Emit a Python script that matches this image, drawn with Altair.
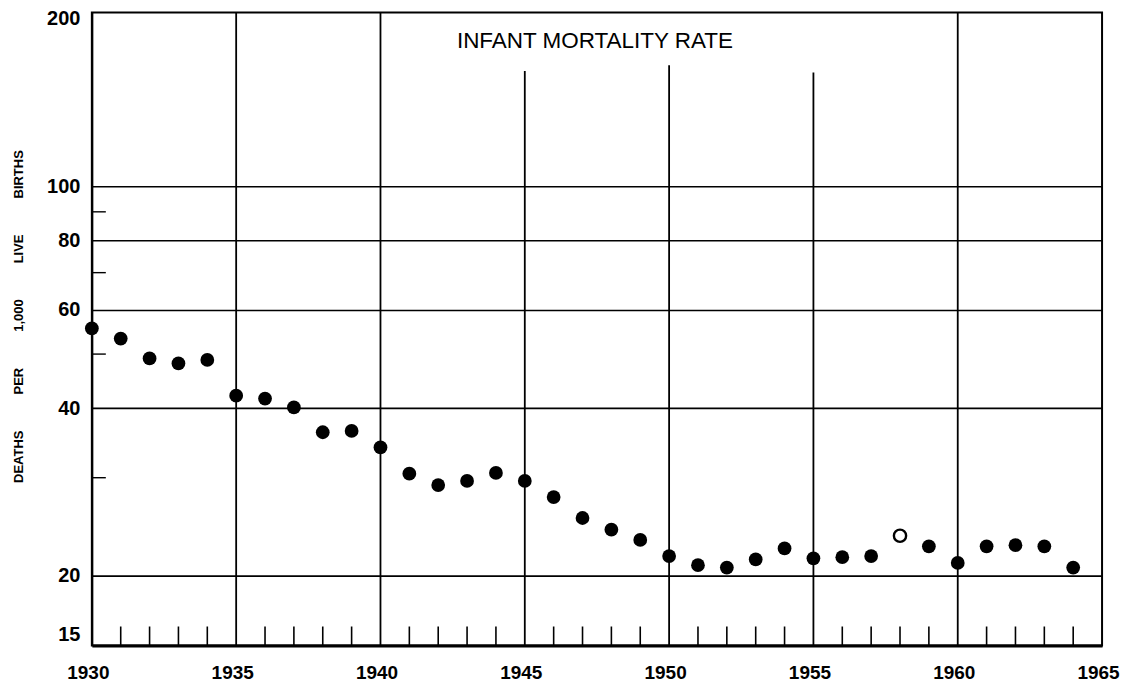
import altair as alt
import pandas as pd

# ---- data ----
years = list(range(1930, 1965))
rates = [55.6, 53.3, 49.1, 48.1, 48.8, 42.1, 41.6, 40.1, 36.2, 36.4,
         34.0, 30.5, 29.1, 29.6, 30.6, 29.6, 27.7, 25.4, 24.2, 23.2,
         21.7, 20.9, 20.7, 21.4, 22.4, 21.5, 21.6, 21.7, 23.6, 22.6,
         21.1, 22.6, 22.7, 22.6, 20.7]
hollow_years = [1958]

grid_years = [1935, 1940, 1945, 1950, 1955, 1960]
grid_tops = [205, 205, 161, 165, 160, 205]
minor_years = [y for y in range(1931, 1965) if y % 5 != 0]
minor_y = [30, 50, 70, 90]
y_labels = [15, 20, 40, 60, 80, 100, 200]
x_labels = [1930, 1935, 1940, 1945, 1950, 1955, 1960, 1965]
chart_title = "INFANT MORTALITY RATE"
nb = "\u00a0" * 10
y_title = nb.join(["DEATHS", "PER", "1,000", "LIVE", "BIRTHS"])

W, H = 1012, 634
FONT = "Liberation Sans"

pts = pd.DataFrame({"year": years, "rate": rates,
                    "open": [y in hollow_years for y in years]})
grid_df = pd.DataFrame({"year": grid_years, "top": grid_tops})
minor_df = pd.DataFrame({"year": minor_years})
minor_y_df = pd.DataFrame({"v": minor_y})
title_df = pd.DataFrame({"t": [chart_title]})

xs = alt.Scale(domain=[1930, 1965], nice=False, zero=False)
ys = alt.Scale(type="log", domain=[15, 205], nice=False)

x_axis = alt.Axis(values=x_labels, format="d", title=None, grid=False, ticks=False,
                  labelFont=FONT, labelFontSize=19, labelFontWeight="bold",
                  labelColor="black", labelPadding=18, labelOffset=-4,
                  domainColor="black", domainWidth=3, labelFlush=False)
y_axis = alt.Axis(values=y_labels, format="d", title=y_title, grid=True,
                  gridColor="black", gridWidth=1.6,
                  gridOpacity={"condition": {"test": "datum.value === 200 || datum.value === 15",
                                             "value": 0}, "value": 1},
                  labelOffset={"condition": {"test": "datum.value === 15", "value": -11},
                               "value": 0},
                  ticks=False,
                  labelFont=FONT, labelFontSize=20, labelFontWeight="bold",
                  labelColor="black", labelPadding=12, domainColor="black",
                  domainWidth=2, titleFont=FONT, titleFontSize=13,
                  titleFontWeight="bold", titleColor="black", titleX=-73,
                  titleY=304, titleBaseline="middle", titleAngle=270,
                  labelFlush=False)

vgrid = alt.Chart(grid_df).mark_rule(color="black", strokeWidth=1.8).encode(
    x=alt.X("year:Q", scale=xs, axis=x_axis),
    y=alt.Y("top:Q", scale=ys, axis=y_axis),
    y2=alt.value(H),
)

minor_x = alt.Chart(minor_df).mark_rule(color="black", strokeWidth=1.6).encode(
    x=alt.X("year:Q", scale=xs, axis=x_axis),
    y=alt.value(H - 19),
    y2=alt.value(H),
)

minor_left = alt.Chart(minor_y_df).mark_rule(color="black", strokeWidth=1.4).encode(
    y=alt.Y("v:Q", scale=ys, axis=y_axis),
    x=alt.value(0),
    x2=alt.value(14),
)

filled = alt.Chart(pts).transform_filter("!datum.open").mark_point(
    shape="circle", filled=True, color="black", size=190, opacity=1
).encode(
    x=alt.X("year:Q", scale=xs, axis=x_axis),
    y=alt.Y("rate:Q", scale=ys, axis=y_axis),
)

hollow = alt.Chart(pts).transform_filter("datum.open").mark_point(
    shape="circle", filled=False, color="black", size=150, strokeWidth=2.4, opacity=1
).encode(
    x=alt.X("year:Q", scale=xs, axis=x_axis),
    y=alt.Y("rate:Q", scale=ys, axis=y_axis),
)

title = alt.Chart(title_df).mark_text(
    font=FONT, fontSize=22.5, color="black", align="center", baseline="middle"
).encode(x=alt.value(504), y=alt.value(28), text="t:N")

chart = alt.layer(vgrid, minor_x, minor_left, filled, hollow, title).properties(
    width=W, height=H,
    autosize=alt.AutoSizeParams(type="none"),
    padding={"left": 84, "top": 4, "right": 30, "bottom": 40},
    background="white",
).configure_view(stroke="black", strokeWidth=2)

chart.save("out.html", embed_options={"renderer": "svg", "actions": False})
